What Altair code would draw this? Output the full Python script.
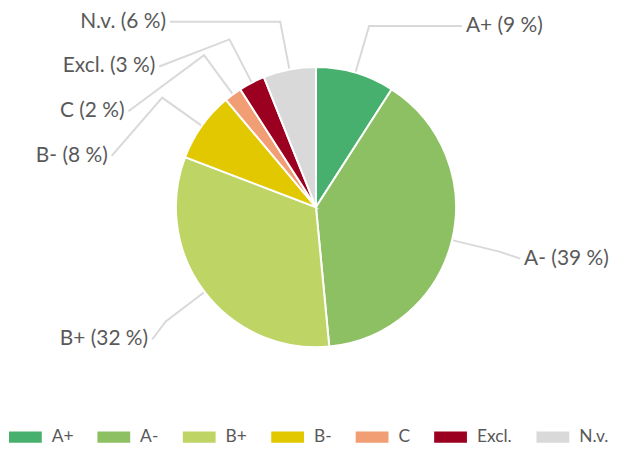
import altair as alt
import numpy as np
import pandas as pd

# ---- data ----
categories = ["A+", "A-", "B+", "B-", "C", "Excl.", "N.v."]
values = [9, 39, 32, 8, 2, 3, 6]
colors = ["#48B06E", "#8CC063", "#BED566", "#E2C800", "#F29E74", "#9B0020", "#D9D9D9"]

# ---- layout constants ----
W, H = 605, 400
CX, CY = 310, 199          # pie centre inside plot area (pixels)
R = 141                    # pie radius
ELBOW = 190                # radius of leader-line elbow
LABEL_R = 212              # radius of label anchors
LOW_R = 220                # radius used for labels in the lower half
MIN_DX = 147               # minimum horizontal distance of label anchors
GAP = 45                   # minimum vertical spacing between labels
FONT = "Lato"
TXT = "#595959"

vals = np.array(values, dtype=float)
total = vals.sum()
ends = np.cumsum(vals) / total * 2 * np.pi
starts = ends - vals / total * 2 * np.pi
mids = (starts + ends) / 2

pie_df = pd.DataFrame({"category": categories, "value": values, "idx": range(len(categories))})

# label placement computed from slice angles
sx = np.sin(mids)
cy_ = -np.cos(mids)
ex, ey = R * sx, R * cy_
bx, by = ELBOW * sx, ELBOW * cy_
side = np.where(sx > 0, 1, -1)
base = np.where(cy_ > 0, LOW_R * cy_, by)
ly = base.copy()
for s in (1, -1):
    ids = [i for i in range(len(categories)) if side[i] == s]
    ids.sort(key=lambda i: base[i])
    prev = None
    for i in ids:
        if prev is not None:
            ly[i] = max(base[i], prev + GAP)
        prev = ly[i]
lx = side * np.maximum(np.sqrt(np.clip(LABEL_R**2 - ly**2, 0, None)), MIN_DX)

rows = []
for i, c in enumerate(categories):
    rows += [
        {"category": c, "k": 0, "x": ex[i], "y": ey[i]},
        {"category": c, "k": 1, "x": bx[i], "y": by[i]},
        {"category": c, "k": 2, "x": lx[i], "y": ly[i]},
    ]
lines_df = pd.DataFrame(rows)

lab_df = pd.DataFrame({
    "text": [f"{c} ({v} %)" for c, v in zip(categories, values)],
    "x": lx + side * 4,
    "y": ly,
    "side": side,
})

xs = alt.Scale(domain=[-CX, W - CX], nice=False, zero=False)
ys = alt.Scale(domain=[-CY, H - CY], nice=False, zero=False, reverse=True)

legend_shape = "M-1,-0.34L1,-0.34L1,0.34L-1,0.34Z"

pie = alt.Chart(pie_df).mark_arc(outerRadius=R, stroke="white", strokeWidth=2).encode(
    theta=alt.Theta("value:Q", stack=True),
    color=alt.Color(
        "category:N",
        scale=alt.Scale(domain=categories, range=colors),
        sort=categories,
        legend=alt.Legend(
            title=None, orient="none", legendX=1, legendY=414, direction="horizontal",
            symbolType=legend_shape, symbolSize=1089, symbolStrokeWidth=0, symbolOpacity=1,
            labelFont=FONT, labelFontSize=17.5, labelColor=TXT, labelOffset=10,
            columnPadding=24, padding=0,
        ),
    ),
    order=alt.Order("idx:Q"),
    x=alt.datum(0, scale=xs, axis=None),
    y=alt.datum(0, scale=ys, axis=None),
)

leaders = alt.Chart(lines_df).mark_line(color="#D9D9D9", strokeWidth=2).encode(
    x=alt.X("x:Q", scale=xs, axis=None),
    y=alt.Y("y:Q", scale=ys, axis=None),
    detail="category:N",
    order="k:Q",
)

lab_r = alt.Chart(lab_df).transform_filter("datum.side > 0").mark_text(
    align="left", baseline="middle", font=FONT, fontSize=21, color=TXT
).encode(x=alt.X("x:Q", scale=xs, axis=None), y=alt.Y("y:Q", scale=ys, axis=None), text="text:N")

lab_l = alt.Chart(lab_df).transform_filter("datum.side < 0").mark_text(
    align="right", baseline="middle", font=FONT, fontSize=21, color=TXT
).encode(x=alt.X("x:Q", scale=xs, axis=None), y=alt.Y("y:Q", scale=ys, axis=None), text="text:N")

chart = alt.layer(leaders, pie, lab_r, lab_l).properties(
    width=W, height=H, padding=0, background="white"
).configure_view(stroke=None)

chart.save("out.html", embed_options={"renderer": "svg", "actions": False})
